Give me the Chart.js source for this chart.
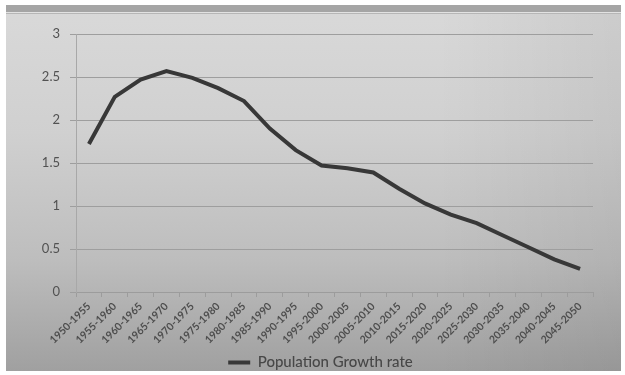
<!DOCTYPE html>
<html>
<head>
<meta charset="utf-8">
<script src="https://cdn.jsdelivr.net/npm/chart.js@4.4.1/dist/chart.umd.min.js"></script>
<style>
  html, body { margin: 0; padding: 0; background: #ffffff; }
  #wrap { width: 625px; height: 375px; position: relative; }
  canvas { display: block; }
</style>
</head>
<body>
<div id="wrap"><canvas id="c" width="625" height="375"></canvas></div>
<script>
// Five-year periods and the population growth rate (%) for each
const periods = [
  '1950-1955', '1955-1960', '1960-1965', '1965-1970', '1970-1975',
  '1975-1980', '1980-1985', '1985-1990', '1990-1995', '1995-2000',
  '2000-2005', '2005-2010', '2010-2015', '2015-2020', '2020-2025',
  '2025-2030', '2030-2035', '2035-2040', '2040-2045', '2045-2050'
];
const growthRate = [
  1.72, 2.27, 2.47, 2.57, 2.49, 2.37, 2.22, 1.90, 1.65, 1.47,
  1.44, 1.39, 1.20, 1.03, 0.90, 0.80, 0.66, 0.52, 0.38, 0.27
];
const yTicks = [0, 0.5, 1, 1.5, 2, 2.5, 3];

// Grey slide-style backdrop with a darker strip along the top
const backdrop = {
  id: 'backdrop',
  beforeDraw(chart) {
    const ctx = chart.ctx;
    const W = chart.width, H = chart.height;
    ctx.save();
    ctx.fillStyle = '#ffffff';
    ctx.fillRect(0, 0, W, H);
    const x0 = 6, y0 = 5, x1 = 621, y1 = 371;
    const g = ctx.createLinearGradient(0, y0, 0, y1);
    g.addColorStop(0, '#d9d9d9');
    g.addColorStop(0.35, '#d0d0d0');
    g.addColorStop(0.7, '#bdbdbd');
    g.addColorStop(1, '#a0a0a0');
    ctx.fillStyle = g;
    ctx.fillRect(x0, y0, x1 - x0, y1 - y0);
    const gh = ctx.createLinearGradient(x0, 0, x1, 0);
    gh.addColorStop(0, 'rgba(0,0,0,0)');
    gh.addColorStop(0.7, 'rgba(0,0,0,0)');
    gh.addColorStop(1, 'rgba(0,0,0,0.06)');
    ctx.fillStyle = gh;
    ctx.fillRect(x0, y0, x1 - x0, y1 - y0);
    ctx.fillStyle = '#a5a5a5';
    ctx.fillRect(x0, y0, x1 - x0, 7);
    ctx.fillStyle = '#e2e2e2';
    ctx.fillRect(x0, y0 + 7, x1 - x0, 1);
    ctx.fillStyle = '#b6b6b6';
    ctx.fillRect(x0, y0 + 8, x1 - x0, 1);
    ctx.restore();
  }
};

const labelFont = "Lato, 'Open Sans', sans-serif";

new Chart(document.getElementById('c'), {
  type: 'line',
  data: {
    labels: periods,
    datasets: [{
      label: 'Population Growth rate',
      data: growthRate,
      borderColor: '#383838',
      backgroundColor: '#383838',
      borderWidth: 4,
      pointStyle: 'line',
      pointRadius: 0,
      pointHoverRadius: 0,
      tension: 0,
      fill: false
    }]
  },
  options: {
    responsive: false,
    animation: false,
    devicePixelRatio: 1,
    layout: { padding: { left: 24, right: 8, top: 34, bottom: -5 } },
    plugins: {
      tooltip: { enabled: false },
      legend: {
        position: 'bottom',
        labels: {
          usePointStyle: true,
          pointStyleWidth: 22,
          boxHeight: 14,
          padding: 2,
          color: '#474747',
          font: { family: labelFont, size: 15, weight: '500' }
        }
      }
    },
    scales: {
      x: {
        offset: true,
        grid: {
          display: true,
          offset: true,
          drawOnChartArea: false,
          drawTicks: true,
          tickLength: 5,
          color: '#9c9c9c'
        },
        border: { display: true, color: '#9c9c9c', width: 1 },
        ticks: {
          autoSkip: false,
          maxRotation: 45,
          minRotation: 45,
          padding: 3,
          color: '#4e4e4e',
          font: { family: labelFont, size: 10.5, weight: 'bold' }
        },
        afterFit(scale) { scale.height = 61; }
      },
      y: {
        min: 0,
        max: 3,
        afterBuildTicks(scale) { scale.ticks = yTicks.map(v => ({ value: v })); },
        grid: {
          color: '#9e9e9e',
          lineWidth: 1,
          tickLength: 6
        },
        border: { display: true, color: '#a8a8a8', width: 1 },
        ticks: {
          padding: 10,
          color: '#525252',
          font: { family: labelFont, size: 13 },
          callback: (v) => String(v)
        },
        afterFit(scale) { scale.width = 52; }
      },
      // empty right-hand margin beside the plot
      yRight: {
        position: 'right',
        min: 0,
        max: 3,
        grid: { display: false, drawTicks: false },
        border: { display: false },
        ticks: { display: false },
        afterFit(scale) { scale.width = 24; }
      }
    }
  },
  plugins: [backdrop]
});
</script>
</body>
</html>
